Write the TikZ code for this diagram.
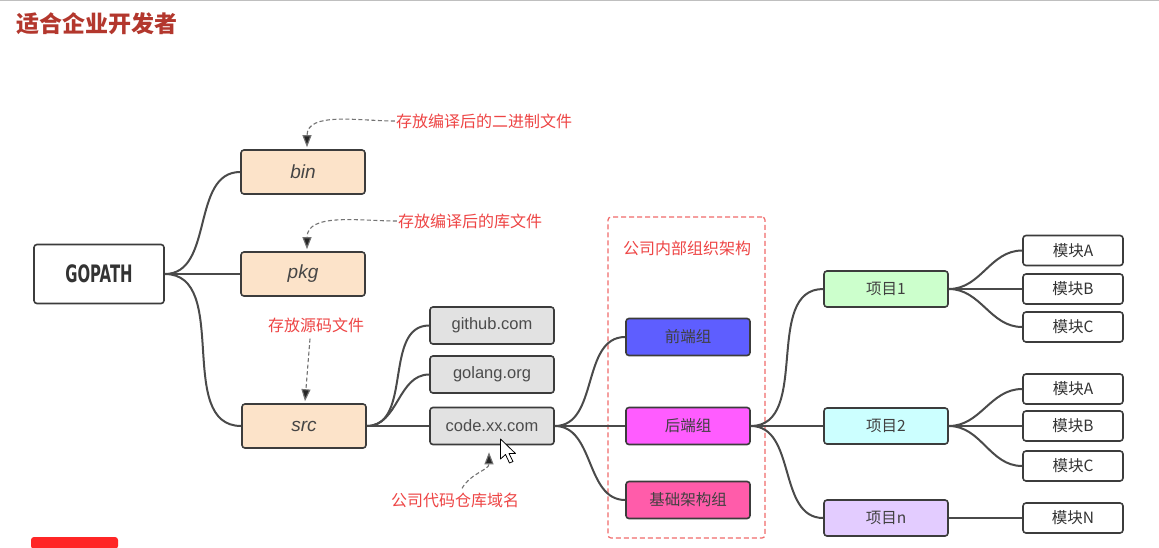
\documentclass[tikz,border=0pt]{standalone}
\usepackage{fontspec}
\usepackage{graphicx}
\setmainfont{Liberation Sans}
\newfontfamily\cjk{Noto Sans CJK SC}
\newfontfamily\dvs{DejaVu Sans}
\usetikzlibrary{arrows.meta,calc}
\definecolor{titlec}{HTML}{B3372D}
\definecolor{bordc}{HTML}{3C3C3C}
\definecolor{connc}{HTML}{4A4A4A}
\definecolor{txtc}{HTML}{454545}
\definecolor{annc}{HTML}{EE4545}
\definecolor{peach}{HTML}{FCE3C9}
\definecolor{grayf}{HTML}{E2E2E2}
\definecolor{bluef}{HTML}{5E5EFF}
\definecolor{magf}{HTML}{FF5CFF}
\definecolor{pinkf}{HTML}{FF5CAA}
\definecolor{greenf}{HTML}{CCFFCC}
\definecolor{cyanf}{HTML}{CCFFFF}
\definecolor{purf}{HTML}{E3CCFF}
\tikzset{
  box/.style={draw=bordc, line width=1.6pt, rounded corners=3pt, inner sep=0pt, text=txtc, align=center},
  dirbox/.style={box, fill=peach, minimum width=124pt, minimum height=44pt, font=\fontsize{19}{21}\selectfont\itshape},
  repobox/.style={box, fill=grayf, minimum width=124pt, minimum height=37pt, font=\fontsize{16.5}{18}\selectfont, text=black!70},
  grpbox/.style={box, minimum width=124pt, minimum height=37pt, font=\cjk\fontsize{15.5}{18}\selectfont, text=black!75},
  projbox/.style={box, minimum width=124pt, minimum height=36pt, font=\cjk\fontsize{15.5}{18}\selectfont, text=black!75},
  modbox/.style={box, fill=white, minimum width=100pt, minimum height=30pt, font=\cjk\fontsize{15.5}{18}\selectfont, text=black!80},
  conn/.style={draw=connc, line width=2pt},
  ann/.style={draw=black!55, line width=1.1pt, dash pattern=on 4pt off 2.5pt, -{Triangle[length=12pt,width=9pt,fill=black!85]}},
  anntext/.style={font=\cjk\fontsize{16}{18}\selectfont, text=annc, inner sep=1pt}
}
\begin{document}
\begin{tikzpicture}[x=1pt,y=-1pt]
\useasboundingbox (0,0) rectangle (1159,547);
\fill[white] (0,0) rectangle (1159,547);
\draw[black!25, line width=1.5pt] (0,0.5) -- (1159,0.5);

% title
\node[font=\cjk\bfseries\fontsize{23}{26}\selectfont, text=titlec, anchor=west] (title) at (13,24) {适合企业开发者};

% root
\node[box, fill=white, minimum width=130pt, minimum height=59pt, text=black!80] (gopath) at (99,274) {\dvs\bfseries\fontsize{24}{26}\selectfont\scalebox{0.62}[1]{GOPATH}};

% dirs
\node[dirbox] (bin) at (303,172) {bin};
\node[dirbox] (pkg) at (303,274) {pkg};
\node[dirbox] (src) at (304,426) {src};

% repos
\node[repobox] (github) at (492,325.5) {github.com};
\node[repobox] (golang) at (492,374.5) {golang.org};
\node[repobox] (code) at (492,426) {code.xx.com};

% org group
\node[draw=annc!80, line width=1.2pt, dash pattern=on 5pt off 3pt, rounded corners=3pt, minimum width=157pt, minimum height=321pt, inner sep=0pt] (grp) at (686.5,377.5) {};
\node[anntext] (grptitle) at (687,248) {公司内部组织架构};
\node[grpbox, fill=bluef] (front) at (688,337) {前端组};
\node[grpbox, fill=magf] (back) at (688,426) {后端组};
\node[grpbox, fill=pinkf] (infra) at (688,500) {基础架构组};

% projects
\node[projbox, fill=greenf] (p1) at (886,289) {项目1};
\node[projbox, fill=cyanf] (p2) at (886,426) {项目2};
\node[projbox, fill=purf] (pn) at (886,518) {项目n};

% modules
\node[modbox] (m1a) at (1073,250.5) {模块A};
\node[modbox] (m1b) at (1073,289) {模块B};
\node[modbox] (m1c) at (1073,327) {模块C};
\node[modbox] (m2a) at (1073,389) {模块A};
\node[modbox] (m2b) at (1073,426) {模块B};
\node[modbox] (m2c) at (1073,466) {模块C};
\node[modbox] (mn) at (1073,518) {模块N};

% connectors
\foreach \a/\b in {gopath/bin, gopath/pkg, gopath/src,
                   src/github, src/golang, src/code,
                   code/front, code/back, code/infra,
                   back/p1, back/p2, back/pn,
                   p1/m1a, p1/m1b, p1/m1c,
                   p2/m2a, p2/m2b, p2/m2c,
                   pn/mn}
  \draw[conn] (\a.east) to[out=0,in=180] (\b.west);

% annotations
\node[anntext] (t1) at (484,121) {存放编译后的二进制文件};
\node[anntext] (t2) at (470,221) {存放编译后的库文件};
\node[anntext] (t3) at (316,325) {存放源码文件};
\node[anntext] (t4) at (455,500) {公司代码仓库域名};

\draw[ann] (t1.west) to[out=180,in=90] ([xshift=4pt,yshift=2pt]bin.north);
\draw[ann] (t2.west) to[out=180,in=90] ([xshift=4pt,yshift=2pt]pkg.north);
\draw[ann] ([xshift=-6pt,yshift=-5pt]t3.south) -- ([xshift=1pt,yshift=2pt]src.north);
\draw[ann] ([xshift=7pt,yshift=3pt]t4.north) to[out=60,in=-90] ([xshift=-3pt,yshift=-7pt]code.south);

% mouse cursor
\draw[fill=white, draw=black, line width=0.8pt, line join=round, shift={(500.5,439)}]
  (0,0) -- (0,20) -- (5,15.5) -- (9,24) -- (12.5,22.5) -- (8.5,14.5) -- (15,14.5) -- cycle;

% partial red badge at bottom left
\fill[red!85!white, rounded corners=3pt] (31,549) -- (31,537) -- (118,537) -- (118,549) -- cycle;
\end{tikzpicture}
\end{document}
